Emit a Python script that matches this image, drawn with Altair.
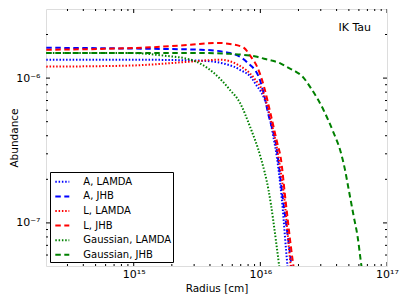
import altair as alt
import pandas as pd

# ---- data ----
series_names = ["A, LAMDA", "A, JHB", "L, LAMDA", "L, JHB", "Gaussian, LAMDA", "Gaussian, JHB"]
series_colors = ["#0000ff", "#0000ff", "#ff0000", "#ff0000", "#008000", "#008000"]

a_lamda_x = [2.04e14, 9.3e14, 3.39e15, 6.17e15, 6.9e15, 8.3e15, 9.5e15, 1.01e16, 1.15e16, 1.27e16, 1.35e16, 1.48e16, 1.64e16, 1.72e16]
a_lamda_y = [1.34e-6, 1.34e-6, 1.32e-6, 1.20e-6, 1.14e-6, 1.03e-6, 8.7e-7, 8.07e-7, 6.0e-7, 3.9e-7, 2.85e-7, 1.44e-7, 5.0e-8, 3.5e-8]

a_jhb_x = [2.04e14, 9.3e14, 3.39e15, 5.75e15, 7.9e15, 9.8e15, 1.07e16, 1.15e16, 1.35e16, 1.51e16, 1.74e16, 1.80e16]
a_jhb_y = [1.62e-6, 1.60e-6, 1.57e-6, 1.49e-6, 1.28e-6, 1.00e-6, 7.66e-7, 5.75e-7, 3.18e-7, 1.44e-7, 5.5e-8, 4.2e-8]

l_lamda_x = [2.04e14, 9.3e14, 2.82e15, 4.84e15, 6.6e15, 8.9e15, 1.07e16, 1.18e16, 1.36e16, 1.55e16, 1.74e16, 1.80e16]
l_lamda_y = [1.20e-6, 1.22e-6, 1.30e-6, 1.34e-6, 1.24e-6, 1.00e-6, 7.66e-7, 5.6e-7, 3.18e-7, 1.44e-7, 5.0e-8, 4.0e-8]

l_jhb_x = [2.04e14, 5.5e14, 1.35e15, 2.82e15, 4.57e15, 5.75e15, 7.4e15, 8.3e15, 9.5e15, 1.07e16, 1.2e16, 1.36e16, 1.45e16, 1.58e16, 1.8e16, 1.86e16]
l_jhb_y = [1.57e-6, 1.59e-6, 1.63e-6, 1.70e-6, 1.75e-6, 1.72e-6, 1.62e-6, 1.43e-6, 1.18e-6, 8.7e-7, 5.75e-7, 3.56e-7, 2.8e-7, 1.44e-7, 5.5e-8, 4.5e-8]

g_lamda_x = [2.04e14, 9.3e14, 1.72e15, 2.82e15, 4.27e15, 5.75e15, 6.9e15, 8.3e15, 1.01e16, 1.16e16, 1.38e16, 1.41e16, 1.45e16]
g_lamda_y = [1.49e-6, 1.49e-6, 1.43e-6, 1.34e-6, 1.09e-6, 8.3e-7, 6.75e-7, 4.6e-7, 2.8e-7, 1.69e-7, 5.8e-8, 5.0e-8, 4.2e-8]

g_jhb_x = [2.04e14, 3.39e15, 5.75e15, 8.3e15, 9.2e15, 1.07e16, 1.24e16, 1.45e16, 1.63e16, 1.90e16, 2.14e16, 2.49e16,
           3.16e16, 3.79e16, 4.31e16, 4.63e16, 4.99e16, 5.46e16, 5.87e16, 6.2e16, 6.43e16]
g_jhb_y = [1.49e-6, 1.49e-6, 1.47e-6, 1.43e-6, 1.41e-6, 1.36e-6, 1.32e-6, 1.26e-6, 1.19e-6, 1.11e-6, 1.03e-6, 8.6e-7,
           6.0e-7, 4.18e-7, 3.09e-7, 2.39e-7, 1.69e-7, 1.11e-7, 7.96e-8, 5.5e-8, 4.35e-8]

x_major = [1e15, 1e16, 1e17]
x_major_labels = ["10¹⁵", "10¹⁶", "10¹⁷"]
x_minor = [3e14, 4e14, 5e14, 6e14, 7e14, 8e14, 9e14,
           2e15, 3e15, 4e15, 5e15, 6e15, 7e15, 8e15, 9e15,
           2e16, 3e16, 4e16, 5e16, 6e16, 7e16, 8e16, 9e16]
y_major = [1e-7, 1e-6]
y_major_labels = ["10⁻⁷", "10⁻⁶"]
y_minor = [6e-8, 7e-8, 8e-8, 9e-8, 2e-7, 3e-7, 4e-7, 5e-7, 6e-7, 7e-7, 8e-7, 9e-7, 2e-6]
annotation = ["IK Tau"]

# ---- layout ----
W, H = 341, 257
FONT = "DejaVu Sans"

rows = []
for name, xs, ys in zip(series_names,
                        [a_lamda_x, a_jhb_x, l_lamda_x, l_jhb_x, g_lamda_x, g_jhb_x],
                        [a_lamda_y, a_jhb_y, l_lamda_y, l_jhb_y, g_lamda_y, g_jhb_y]):
    for i, (xv, yv) in enumerate(zip(xs, ys)):
        rows.append({"series": name, "radius": xv, "abundance": yv, "order": i})
df = pd.DataFrame(rows)

xscale = alt.Scale(type="log", domain=[2.03e14, 1e17])
yscale = alt.Scale(type="log", domain=[5.04e-8, 3.0e-6])

dot = [1.5, 1.8]
dash = [5.5, 3.5]


def label_expr(values, labels):
    parts = [f"abs(datum.value / {v:e} - 1) < 0.01 ? '{l}'" for v, l in zip(values, labels)]
    return " : ".join(parts) + " : ''"


x_axis = alt.Axis(values=x_major, title="Radius [cm]", ticks=False, domain=False, grid=False,
                  labelExpr=label_expr(x_major, x_major_labels),
                  labelFont=FONT, labelFontSize=11, labelPadding=2, labelColor="black",
                  titleFont=FONT, titleFontSize=10.5, titleFontWeight="normal", titleColor="black",
                  titleBaseline="middle", titleY=22, labelFlush=False, labelOverlap=False)
y_axis = alt.Axis(values=y_major, title="Abundance", ticks=False, domain=False, grid=False,
                  labelExpr=label_expr(y_major, y_major_labels),
                  labelFont=FONT, labelFontSize=11, labelPadding=6, labelColor="black",
                  titleFont=FONT, titleFontSize=10.5, titleFontWeight="normal", titleColor="black",
                  titleBaseline="middle", titleX=-32, labelFlush=False)

lines = alt.Chart(df).mark_line(clip=True, strokeWidth=2, interpolate="monotone").encode(
    x=alt.X("radius:Q", scale=xscale, axis=x_axis),
    y=alt.Y("abundance:Q", scale=yscale, axis=y_axis),
    color=alt.Color("series:N", scale=alt.Scale(domain=series_names, range=series_colors),
                    legend=alt.Legend(orient="none", legendX=4, legendY=163, title=None,
                                      symbolType="stroke", symbolSize=196, symbolStrokeWidth=2,
                                      symbolOffset=2.5,
                                      labelFont=FONT, labelFontSize=10, labelColor="black",
                                      strokeColor="black", fillColor="white", padding=1.8,
                                      rowPadding=1.6, labelOffset=13, cornerRadius=0, labelLimit=200)),
    strokeDash=alt.StrokeDash("series:N", scale=alt.Scale(domain=series_names,
                                                           range=[dot, dash, dot, dash, dot, dash])),
    order="order:Q",
)

xmaj = pd.DataFrame({"radius": x_major})
xmin = pd.DataFrame({"radius": x_minor})
ymaj = pd.DataFrame({"abundance": y_major})
ymin = pd.DataFrame({"abundance": y_minor})


def xticks(d, length):
    b = alt.Chart(d).mark_rule(color="black", strokeWidth=1, clip=True).encode(
        x=alt.X("radius:Q", scale=xscale, axis=x_axis), y=alt.value(H), y2=alt.value(H - length))
    t = alt.Chart(d).mark_rule(color="black", strokeWidth=1, clip=True).encode(
        x=alt.X("radius:Q", scale=xscale, axis=x_axis), y=alt.value(0), y2=alt.value(length))
    return [b, t]


def yticks(d, length):
    l = alt.Chart(d).mark_rule(color="black", strokeWidth=1, clip=True).encode(
        y=alt.Y("abundance:Q", scale=yscale, axis=y_axis), x=alt.value(0), x2=alt.value(length))
    r = alt.Chart(d).mark_rule(color="black", strokeWidth=1, clip=True).encode(
        y=alt.Y("abundance:Q", scale=yscale, axis=y_axis), x=alt.value(W), x2=alt.value(W - length))
    return [l, r]


label = alt.Chart(pd.DataFrame({"t": annotation})).mark_text(
    align="right", baseline="middle", font=FONT, fontSize=11, color="black").encode(
    text="t:N", x=alt.value(W - 16), y=alt.value(19))

chart = alt.layer(
    lines, *xticks(xmaj, 4), *xticks(xmin, 2), *yticks(ymaj, 4), *yticks(ymin, 2), label
).properties(
    width=W, height=H,
    autosize=alt.AutoSizeParams(type="none"),
    padding={"left": 38, "top": 1, "right": 12, "bottom": 35},
).configure_view(stroke="black", strokeWidth=1.1).configure(background="white")

chart.save("out.html", embed_options={"renderer": "svg", "actions": False})
